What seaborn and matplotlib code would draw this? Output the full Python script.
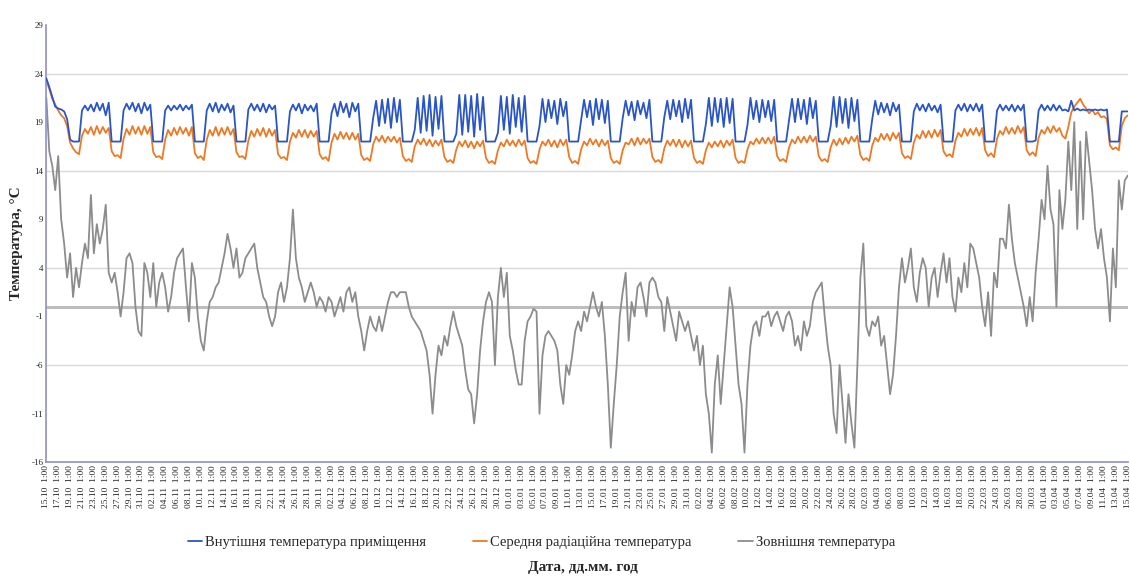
import pandas as pd
import matplotlib
matplotlib.use("Agg")
import matplotlib.pyplot as plt
import seaborn as sns

# --- data: values every 12 h, one row = one week (14 points) ---
START = "2018-10-15 01:00"
END = "2019-04-15 01:00"

indoor = [
    23.5, 22.6, 21.6, 20.6, 20.4, 20.3, 20.1, 19.3, 17.2, 17.0, 17.0, 17.0, 20.2, 20.7,
    20.2, 20.8, 20.1, 21.0, 20.2, 20.9, 19.7, 21.0, 17.0, 17.0, 17.0, 17.0, 20.2, 20.9,
    20.3, 21.0, 20.1, 20.9, 19.9, 21.0, 20.2, 20.8, 17.0, 17.0, 17.0, 17.0, 20.2, 20.7,
    20.2, 20.7, 20.3, 20.8, 20.2, 20.7, 20.3, 20.8, 17.0, 17.0, 17.0, 17.0, 20.2, 20.9,
    20.1, 21.0, 20.0, 20.8, 20.2, 20.9, 20.0, 20.7, 17.0, 17.0, 17.0, 17.0, 20.3, 20.9,
    20.2, 20.8, 20.1, 20.9, 20.0, 20.8, 20.3, 20.7, 17.0, 17.0, 17.0, 17.0, 20.1, 20.8,
    20.2, 20.9, 19.9, 20.8, 20.2, 20.7, 20.1, 20.9, 17.0, 17.0, 17.0, 17.0, 19.9, 20.9,
    19.6, 21.1, 20.0, 20.9, 19.5, 21.0, 20.1, 20.9, 17.0, 17.0, 17.0, 17.0, 19.4, 21.2,
    18.6, 21.3, 18.9, 21.4, 18.4, 21.5, 19.0, 21.3, 17.0, 17.0, 17.0, 17.0, 18.2, 21.5,
    17.9, 21.7, 18.1, 21.8, 17.6, 21.6, 18.3, 21.7, 17.0, 17.0, 17.0, 17.0, 17.8, 21.8,
    17.7, 21.8, 18.0, 21.7, 17.5, 21.9, 18.2, 21.6, 17.0, 17.0, 17.0, 17.0, 17.9, 21.7,
    18.2, 21.6, 17.8, 21.8, 18.5, 21.5, 18.0, 21.7, 17.0, 17.0, 17.0, 17.0, 18.6, 21.4,
    19.0, 21.3, 19.4, 21.2, 18.8, 21.4, 19.6, 21.1, 17.0, 17.0, 17.0, 17.0, 19.2, 21.3,
    19.5, 21.2, 18.7, 21.4, 19.3, 21.3, 18.9, 21.2, 17.0, 17.0, 17.0, 17.0, 19.4, 21.2,
    19.7, 21.1, 19.2, 21.2, 19.8, 21.0, 19.4, 21.3, 17.0, 17.0, 17.0, 17.0, 19.5, 21.2,
    19.3, 21.3, 19.6, 21.2, 19.0, 21.4, 19.4, 21.3, 17.0, 17.0, 17.0, 17.0, 18.8, 21.5,
    18.6, 21.5, 19.0, 21.4, 18.5, 21.5, 18.9, 21.4, 17.0, 17.0, 17.0, 17.0, 18.7, 21.5,
    19.3, 21.2, 19.0, 21.3, 19.5, 21.2, 19.1, 21.3, 17.0, 17.0, 17.0, 17.0, 19.2, 21.4,
    19.0, 21.4, 19.3, 21.3, 18.8, 21.5, 19.4, 21.2, 17.0, 17.0, 17.0, 17.0, 18.6, 21.6,
    18.5, 21.6, 18.9, 21.4, 18.4, 21.5, 19.1, 21.3, 17.0, 17.0, 17.0, 17.0, 19.3, 21.2,
    19.8, 21.0, 20.0, 20.9, 19.7, 21.0, 20.1, 20.8, 17.0, 17.0, 17.0, 17.0, 20.1, 20.9,
    20.2, 20.8, 20.1, 20.9, 20.2, 20.7, 20.0, 20.8, 17.0, 17.0, 17.0, 17.0, 20.2, 20.8,
    20.2, 20.9, 20.1, 20.8, 20.2, 20.9, 20.1, 20.8, 17.0, 17.0, 17.0, 17.0, 20.2, 20.8,
    20.2, 20.7, 20.2, 20.8, 20.1, 20.7, 20.2, 20.8, 17.0, 17.0, 17.0, 17.1, 20.2, 20.8,
    20.2, 20.7, 20.2, 20.8, 20.2, 20.7, 20.2, 20.3, 20.1, 21.2, 20.2, 20.4, 20.2, 20.3,
    20.2, 20.3, 20.2, 20.3, 20.2, 20.3, 20.2, 20.3, 17.0, 17.0, 17.0, 17.0, 20.1, 20.1,
    20.1,
]

radiant = [
    23.3, 22.4, 21.4, 20.8, 20.2, 19.7, 19.4, 18.6, 16.9, 16.3, 15.9, 15.7, 17.6, 18.3,
    17.8, 18.5, 17.7, 18.6, 17.8, 18.5, 17.9, 18.4, 16.0, 15.5, 15.6, 15.3, 17.3, 18.3,
    17.7, 18.6, 17.8, 18.5, 17.7, 18.6, 17.8, 18.5, 15.9, 15.4, 15.5, 15.2, 17.2, 18.2,
    17.6, 18.4, 17.7, 18.5, 17.8, 18.4, 17.6, 18.5, 15.8, 15.3, 15.5, 15.1, 17.2, 18.2,
    17.6, 18.5, 17.6, 18.4, 17.7, 18.5, 17.7, 18.3, 15.9, 15.4, 15.5, 15.2, 17.1, 18.1,
    17.5, 18.3, 17.6, 18.4, 17.5, 18.3, 17.6, 18.2, 15.7, 15.3, 15.4, 15.1, 17.0, 17.9,
    17.4, 18.2, 17.5, 18.2, 17.4, 18.1, 17.5, 18.1, 15.7, 15.2, 15.4, 15.0, 16.9, 17.8,
    17.2, 18.0, 17.3, 17.9, 17.2, 17.9, 17.2, 17.8, 15.6, 15.1, 15.3, 15.0, 16.7, 17.5,
    17.0, 17.6, 16.9, 17.5, 17.0, 17.5, 16.9, 17.4, 15.5, 15.0, 15.2, 14.9, 16.5, 17.2,
    16.7, 17.3, 16.6, 17.2, 16.5, 17.1, 16.6, 17.2, 15.4, 14.9, 15.1, 14.8, 16.2, 17.0,
    16.5, 17.1, 16.4, 17.0, 16.3, 17.0, 16.5, 17.1, 15.3, 14.8, 15.0, 14.7, 16.1, 16.9,
    16.5, 17.2, 16.6, 17.1, 16.5, 17.2, 16.6, 17.1, 15.3, 14.8, 15.0, 14.7, 16.2, 17.0,
    16.6, 17.2, 16.5, 17.1, 16.4, 17.2, 16.6, 17.2, 15.4, 14.8, 15.0, 14.7, 16.2, 17.0,
    16.6, 17.3, 16.7, 17.2, 16.5, 17.2, 16.6, 17.1, 15.3, 14.8, 15.0, 14.7, 16.1, 16.9,
    16.7, 17.3, 16.6, 17.4, 16.7, 17.3, 16.8, 17.3, 15.4, 14.9, 15.1, 14.8, 16.3, 17.1,
    16.6, 17.2, 16.5, 17.2, 16.4, 17.1, 16.5, 17.1, 15.3, 14.8, 15.0, 14.7, 16.1, 16.9,
    16.4, 17.0, 16.5, 17.1, 16.4, 17.1, 16.6, 17.2, 15.3, 14.8, 15.0, 14.8, 16.2, 17.0,
    16.7, 17.3, 16.8, 17.4, 16.8, 17.4, 16.8, 17.5, 15.5, 15.0, 15.2, 14.9, 16.4, 17.2,
    16.8, 17.5, 16.9, 17.5, 16.9, 17.6, 17.0, 17.5, 15.5, 15.0, 15.2, 14.9, 16.4, 17.2,
    16.6, 17.3, 16.7, 17.4, 16.8, 17.5, 17.0, 17.6, 15.6, 15.1, 15.3, 15.0, 16.6, 17.4,
    17.0, 17.8, 17.2, 17.8, 17.1, 17.9, 17.3, 17.9, 15.8, 15.3, 15.5, 15.2, 16.9, 17.7,
    17.3, 18.1, 17.4, 18.1, 17.4, 18.2, 17.5, 18.2, 16.0, 15.5, 15.7, 15.4, 17.1, 17.9,
    17.5, 18.3, 17.6, 18.3, 17.7, 18.4, 17.6, 18.4, 16.1, 15.5, 15.8, 15.4, 17.3, 18.1,
    17.7, 18.5, 17.8, 18.4, 17.8, 18.6, 17.9, 18.5, 16.1, 15.6, 15.9, 15.5, 17.4, 18.2,
    17.8, 18.5, 17.9, 18.6, 18.0, 18.4, 17.6, 17.3, 18.5, 20.0, 20.6, 21.0, 21.4, 20.8,
    20.4, 19.9, 20.3, 19.8, 20.0, 19.5, 19.6, 19.3, 16.6, 16.2, 16.4, 16.1, 18.6, 19.4,
    19.7,
]

outdoor = [
    21.5, 16.0, 14.5, 12.0, 15.5, 9.0, 6.5, 3.0, 5.5, 1.0, 4.0, 2.0, 4.5, 6.5,
    5.0, 11.5, 5.5, 8.5, 6.5, 8.0, 10.5, 3.5, 2.5, 3.5, 1.5, -1.0, 1.5, 5.0,
    5.5, 4.5, 0.0, -2.5, -3.0, 4.5, 3.5, 1.0, 4.5, 0.0, 2.5, 3.5, 2.0, -0.5,
    1.0, 3.5, 5.0, 5.5, 6.0, 2.0, -1.5, 4.5, 3.0, -1.0, -3.5, -4.5, -1.5, 0.5,
    1.0, 2.0, 2.5, 4.0, 5.5, 7.5, 6.0, 4.0, 6.0, 3.0, 3.5, 5.0, 5.5, 6.0,
    6.5, 4.0, 2.5, 1.0, 0.5, -1.0, -2.0, -1.0, 1.5, 2.5, 0.5, 2.0, 5.0, 10.0,
    5.0, 3.0, 2.0, 0.5, 1.5, 2.5, 1.5, 0.0, 1.0, 0.5, -0.5, 1.0, 0.5, -1.0,
    0.0, 1.0, -0.5, 1.5, 2.0, 0.5, 1.5, -1.0, -2.5, -4.5, -2.5, -1.0, -2.0, -2.5,
    -1.0, -2.5, -1.0, 0.5, 1.5, 1.5, 1.0, 1.5, 1.5, 1.5, 0.0, -1.0, -1.5, -2.0,
    -2.5, -3.5, -4.5, -7.0, -11.0, -7.0, -4.0, -5.0, -3.0, -4.0, -2.0, -0.5, -2.0, -3.0,
    -4.0, -6.5, -8.5, -9.0, -12.0, -9.0, -4.5, -1.5, 0.5, 1.5, 0.5, -6.0, 1.0, 4.0,
    1.0, 3.5, -3.0, -4.5, -6.5, -8.0, -8.0, -3.5, -1.5, -1.0, -0.2, -0.5, -11.0, -5.0,
    -3.0, -2.5, -3.0, -3.5, -4.5, -8.0, -10.0, -6.0, -7.0, -5.0, -2.5, -1.5, -2.5, -0.5,
    -1.5, 0.0, 1.5, 0.0, -1.0, 0.5, -3.0, -8.0, -14.5, -10.0, -6.0, -1.0, 1.5, 3.5,
    -3.5, 0.5, -1.0, 2.0, 2.5, 1.0, -1.0, 2.5, 3.0, 2.5, 1.0, 0.5, -2.5, 1.0,
    -0.5, -2.0, -3.5, -0.5, -1.5, -2.5, -1.5, -3.0, -4.5, -3.0, -6.0, -4.0, -9.0, -11.0,
    -15.0, -8.0, -5.0, -10.0, -6.0, -2.0, 2.0, 0.0, -4.0, -8.0, -10.0, -15.0, -8.0, -4.0,
    -2.0, -1.5, -3.0, -1.0, -1.0, -0.5, -2.0, -1.0, -0.5, -1.5, -2.5, -1.0, -0.5, -1.5,
    -4.0, -3.0, -4.5, -1.5, -3.0, -2.0, 0.5, 1.5, 2.0, 2.5, -1.0, -4.0, -6.0, -11.0,
    -13.0, -6.0, -10.0, -14.0, -9.0, -12.0, -14.5, -6.0, 3.0, 6.5, -2.0, -3.0, -1.5, -2.0,
    -1.0, -4.0, -3.0, -6.0, -9.0, -7.0, -3.0, 2.0, 5.0, 2.5, 4.0, 6.0, 2.0, 0.5,
    3.5, 5.0, 4.0, 0.0, 3.0, 4.0, 1.0, 3.5, 5.5, 2.5, 5.0, 1.0, -0.5, 3.0,
    1.5, 4.5, 2.0, 6.5, 6.0, 4.5, 3.0, 0.0, -2.0, 1.5, -3.0, 3.5, 2.0, 7.0,
    7.0, 6.0, 10.5, 7.0, 4.5, 3.0, 1.5, 0.0, -2.0, 1.0, -1.5, 3.5, 7.0, 11.0,
    9.0, 14.5, 10.0, 8.5, 0.0, 12.0, 8.0, 11.0, 17.0, 12.0, 19.0, 8.0, 17.0, 9.0,
    18.0, 15.0, 12.0, 8.0, 6.0, 8.0, 5.0, 3.0, -1.5, 6.0, 2.0, 13.0, 10.0, 13.0,
    13.5,
]

series_names = ["Внутішня температура приміщення",
                "Середня радіаційна температура",
                "Зовнішня температура"]
series_colors = ["#2A55C6", "#EC7A25", "#8C8C8C"]
y_ticks = [-16, -11, -6, -1, 4, 9, 14, 19, 24, 29]
grid_levels = [24, 14, 4, -6]

times = pd.date_range(START, END, freq="12h")
tick_dates = pd.date_range(START, END, freq="2D")
tick_labels = [f"{d:%d.%m}  {d.hour}:00" for d in tick_dates]

df = pd.DataFrame({"time": times,
                   series_names[0]: indoor,
                   series_names[1]: radiant,
                   series_names[2]: outdoor})
df = df.melt(id_vars="time", var_name="series", value_name="temp")

# --- plot ---
sns.set_theme(style="white")
plt.rcParams["font.family"] = ["Liberation Serif", "DejaVu Serif"]

fig, ax = plt.subplots(figsize=(11.3, 5.8), dpi=100)
fig.subplots_adjust(left=0.041, right=0.998, top=0.957, bottom=0.203)

for lvl in grid_levels:
    ax.axhline(lvl, color="#D9D9D9", lw=1, zorder=0)
ax.axhline(0, color="#BDBDBD", lw=2.2, zorder=0)

zorders = [3, 2, 1]
for name, col, z in zip(series_names, series_colors, zorders):
    sns.lineplot(data=df[df["series"] == name], x="time", y="temp",
                 color=col, lw=1.3, ax=ax, label=name, zorder=z)

ax.set_xlim(times[0], times[-1])
ax.set_ylim(-16, 29)
ax.set_yticks(y_ticks)
ax.set_yticklabels([str(v) for v in y_ticks], fontsize=6.5)
ax.set_xticks(tick_dates)
ax.set_xticklabels(tick_labels, rotation=90, fontsize=6.8)
ax.tick_params(axis="both", length=0, pad=2)

for side in ["top", "right"]:
    ax.spines[side].set_visible(False)
for side in ["left", "bottom"]:
    ax.spines[side].set_color("#8F8FCC")
    ax.spines[side].set_linewidth(1.2)

ax.set_xlabel("")
ax.set_ylabel("Температура, °C", fontsize=11, fontweight="bold", labelpad=6)

handles, labels = ax.get_legend_handles_labels()
ax.get_legend().remove()
fig.legend(handles, labels, loc="center", bbox_to_anchor=(0.479, 0.064),
           ncol=3, frameon=False, handlelength=1.0, handletextpad=0.2,
           columnspacing=3.2, fontsize=10.5)

fig.text(0.516, 0.021, "Дата, дд.мм. год", ha="center", va="center",
         fontsize=11, fontweight="bold")

plt.savefig("out.png", dpi=100)
